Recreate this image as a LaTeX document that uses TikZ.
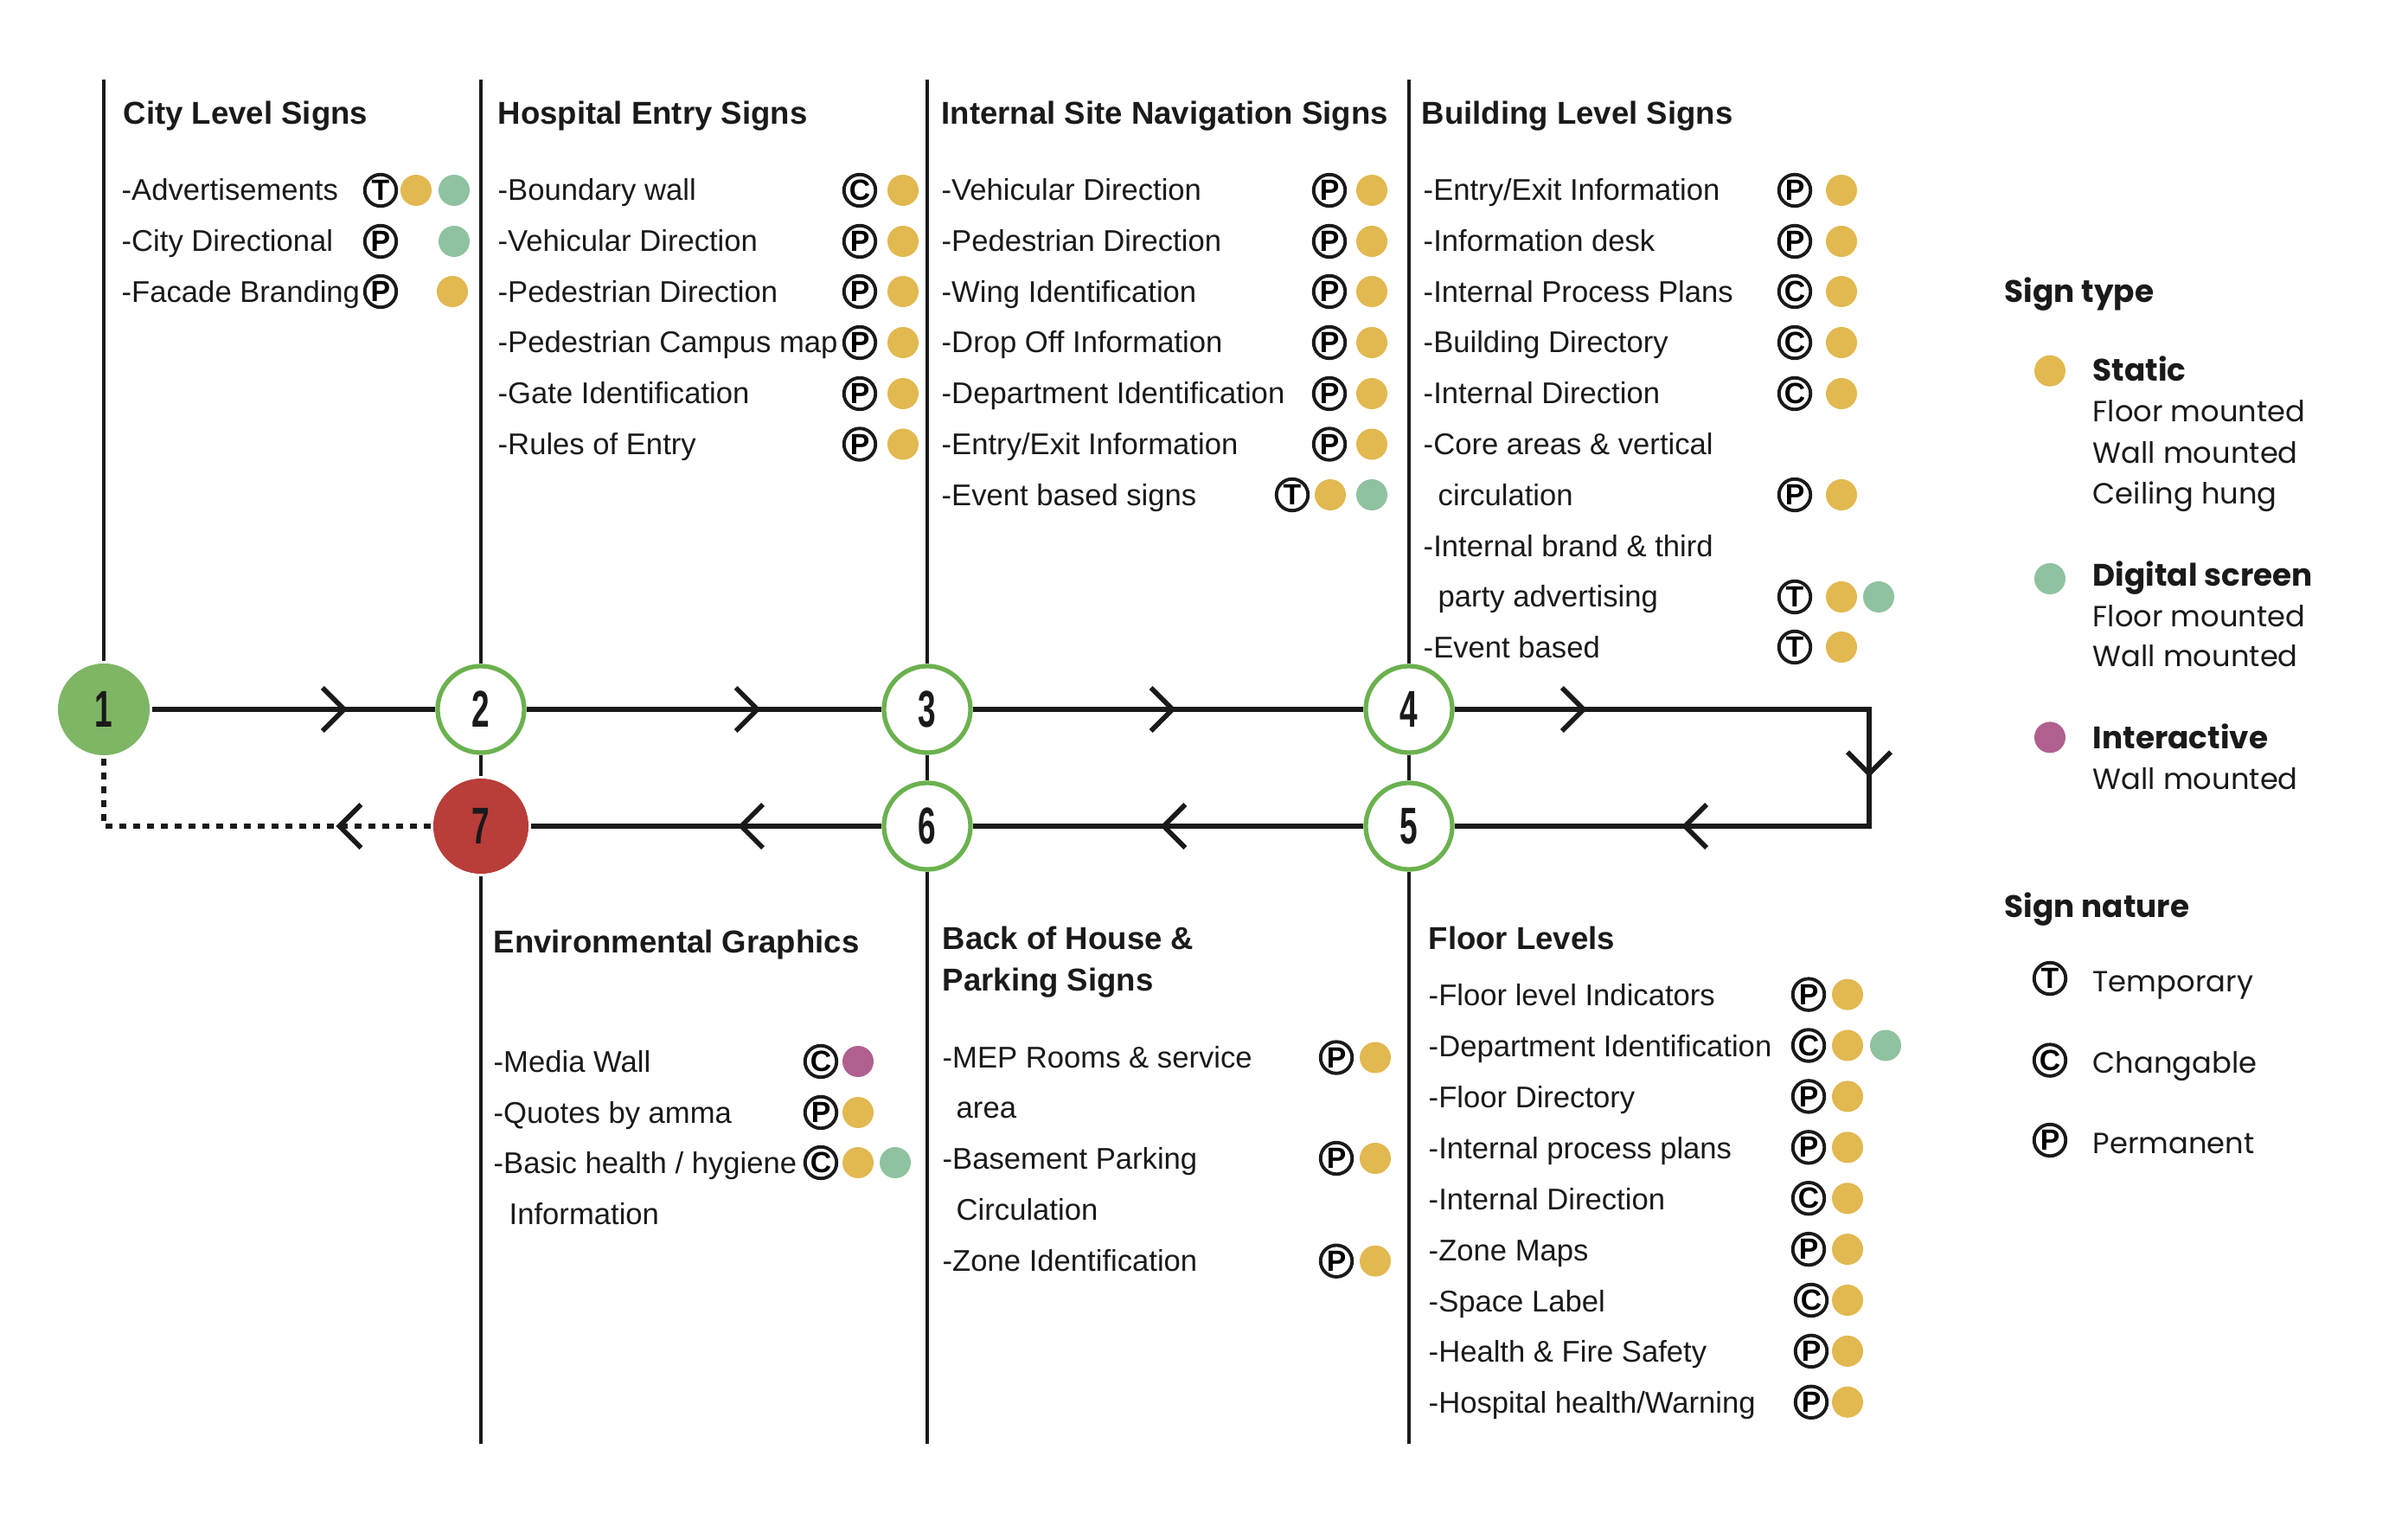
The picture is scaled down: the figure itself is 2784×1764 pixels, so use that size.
\documentclass[tikz,border=0pt]{standalone}
\usepackage{fontspec}
\setmainfont{Liberation Sans}
\newfontfamily\legendfont{Poppins}
\usepackage{tikz}
\usetikzlibrary{arrows.meta,decorations.markings}

\definecolor{inkblack}{HTML}{1A1A1A}
\definecolor{signyellow}{HTML}{E2B850}
\definecolor{signgreen}{HTML}{8FC2A0}
\definecolor{signpurple}{HTML}{B0608F}
\definecolor{ringgreen}{HTML}{6BB14F}
\definecolor{startgreen}{HTML}{7EB665}
\definecolor{endred}{HTML}{B93D39}

\newcommand{\stationnum}[1]{\scalebox{0.62}[1]{\fontsize{17}{17}\selectfont\bfseries #1}}

\begin{document}
\begin{tikzpicture}[x=0.01cm, y=-0.01cm,
    head/.style={anchor=base west, inner sep=0pt, text=inkblack, font=\fontsize{10.4}{12}\selectfont\bfseries},
    item/.style={anchor=base west, inner sep=0pt, text=inkblack, font=\fontsize{9.85}{12}\selectfont},
    legendhead/.style={anchor=base west, inner sep=0pt, text=inkblack, font=\legendfont\fontsize{10.2}{12}\selectfont\bfseries},
    legenditem/.style={anchor=base west, inner sep=0pt, text=inkblack, font=\legendfont\fontsize{9.6}{12}\selectfont},
    nature/.style={circle, draw=inkblack, line width=1.1pt, minimum size=0.365cm, inner sep=0pt, font=\fontsize{9.6}{9.6}\selectfont\bfseries},
    ydot/.style={circle, fill=signyellow, minimum size=0.36cm, inner sep=0pt},
    gdot/.style={ydot, fill=signgreen},
    pdot/.style={ydot, fill=signpurple},
    station/.style={circle, draw=ringgreen, line width=1.5pt, fill=white, minimum size=1.0cm, inner sep=0pt, text=inkblack},
    track/.style={draw=inkblack, line width=1.8pt},
    pole/.style={draw=inkblack, line width=1.2pt},
    chevat/.style={postaction={decorate, decoration={markings, mark=at position #1 with {\arrow{Straight Barb[length=2.5mm, width=5mm, line width=1.6pt]}}}}}]
    \useasboundingbox (0,0) rectangle (2784,1764);

    \node[station, draw=none, fill=startgreen, minimum size=1.06cm] (n1) at (120,820) {\stationnum{1}};
    \node[station] (n2) at (556,820) {\stationnum{2}};
    \node[station] (n3) at (1072,820) {\stationnum{3}};
    \node[station] (n4) at (1629,820) {\stationnum{4}};
    \node[station] (n5) at (1629,955) {\stationnum{5}};
    \node[station] (n6) at (1072,955) {\stationnum{6}};
    \node[station, draw=none, fill=endred, minimum size=1.1cm] (n7) at (556,955) {\stationnum{7}};

    \coordinate (p1t) at (120,92);
    \coordinate (p2t) at (556,92);
    \coordinate (p3t) at (1072,92);
    \coordinate (p4t) at (1629,92);
    \coordinate (p2b) at (556,1669);
    \coordinate (p3b) at (1072,1669);
    \coordinate (p4b) at (1629,1669);
    \coordinate (turnA) at (2161,820);
    \coordinate (turnB) at (2161,955);
    \coordinate (turnC) at (120,955);

    \draw[pole] (p1t) -- (n1);
    \draw[pole] (p2t) -- (n2);
    \draw[pole] (n2) -- (n7);
    \draw[pole] (n7) -- (p2b);
    \draw[pole] (p3t) -- (n3);
    \draw[pole] (n3) -- (n6);
    \draw[pole] (n6) -- (p3b);
    \draw[pole] (p4t) -- (n4);
    \draw[pole] (n4) -- (n5);
    \draw[pole] (n5) -- (p4b);

    \draw[track, chevat=0.69] (n1) -- (n2);
    \draw[track, chevat=0.66] (n2) -- (n3);
    \draw[track, chevat=0.52] (n3) -- (n4);
    \draw[track, chevat=0.14, chevat=0.51, chevat=0.76] (n4) -- (turnA) -- (turnB) -- (n5);
    \draw[track, chevat=0.52] (n5) -- (n6);
    \draw[track, chevat=0.41] (n6) -- (n7);
    \draw[track, dash pattern=on 0.8mm off 0.8mm, chevat=0.24] (n7) -- (turnC) -- (n1);

    \node[head] (hcity) at (142,144) {City Level Signs};
    \node[item] (city1) at (140,232) {-Advertisements};
    \node[nature] (city1n) at (440,220) {T};
    \node[ydot] (city1y) at (481,220) {};
    \node[gdot] (city1g) at (525,220) {};
    \node[item] (city2) at (140,290.7) {-City Directional};
    \node[nature] (city2n) at (440,279) {P};
    \node[gdot] (city2g) at (525,279) {};
    \node[item] (city3) at (140,349.4) {-Facade Branding};
    \node[nature] (city3n) at (440,337) {P};
    \node[ydot] (city3y) at (523,337) {};

    \node[head] (hentry) at (575,144) {Hospital Entry Signs};
    \node[item] (entry1) at (575,232) {-Boundary wall};
    \node[nature] (entry1n) at (994,220) {C};
    \node[ydot] (entry1y) at (1044,220) {};
    \node[item] (entry2) at (575,290.7) {-Vehicular Direction};
    \node[nature] (entry2n) at (994,279) {P};
    \node[ydot] (entry2y) at (1044,279) {};
    \node[item] (entry3) at (575,349.4) {-Pedestrian Direction};
    \node[nature] (entry3n) at (994,337) {P};
    \node[ydot] (entry3y) at (1044,337) {};
    \node[item] (entry4) at (575,408) {-Pedestrian Campus map};
    \node[nature] (entry4n) at (994,396) {P};
    \node[ydot] (entry4y) at (1044,396) {};
    \node[item] (entry5) at (575,466.8) {-Gate Identification};
    \node[nature] (entry5n) at (994,455) {P};
    \node[ydot] (entry5y) at (1044,455) {};
    \node[item] (entry6) at (575,525.5) {-Rules of Entry};
    \node[nature] (entry6n) at (994,513.5) {P};
    \node[ydot] (entry6y) at (1044,513.5) {};

    \node[head] (hsite) at (1088,144) {Internal Site Navigation Signs};
    \node[item] (site1) at (1088,232) {-Vehicular Direction};
    \node[nature] (site1n) at (1537,220) {P};
    \node[ydot] (site1y) at (1586,220) {};
    \node[item] (site2) at (1088,290.7) {-Pedestrian Direction};
    \node[nature] (site2n) at (1537,279) {P};
    \node[ydot] (site2y) at (1586,279) {};
    \node[item] (site3) at (1088,349.4) {-Wing Identification};
    \node[nature] (site3n) at (1537,337) {P};
    \node[ydot] (site3y) at (1586,337) {};
    \node[item] (site4) at (1088,408) {-Drop Off Information};
    \node[nature] (site4n) at (1537,396) {P};
    \node[ydot] (site4y) at (1586,396) {};
    \node[item] (site5) at (1088,466.8) {-Department Identification};
    \node[nature] (site5n) at (1537,455) {P};
    \node[ydot] (site5y) at (1586,455) {};
    \node[item] (site6) at (1088,525.5) {-Entry/Exit Information};
    \node[nature] (site6n) at (1537,513.5) {P};
    \node[ydot] (site6y) at (1586,513.5) {};
    \node[item] (site7) at (1088,584.2) {-Event based signs};
    \node[nature] (site7n) at (1494,572) {T};
    \node[ydot] (site7y) at (1538,572) {};
    \node[gdot] (site7g) at (1586,572) {};

    \node[head] (hbuild) at (1643,144) {Building Level Signs};
    \node[item] (build1) at (1645,232) {-Entry/Exit Information};
    \node[nature] (build1n) at (2075,220) {P};
    \node[ydot] (build1y) at (2129,220) {};
    \node[item] (build2) at (1645,290.7) {-Information desk};
    \node[nature] (build2n) at (2075,279) {P};
    \node[ydot] (build2y) at (2129,279) {};
    \node[item] (build3) at (1645,349.4) {-Internal Process Plans};
    \node[nature] (build3n) at (2075,337) {C};
    \node[ydot] (build3y) at (2129,337) {};
    \node[item] (build4) at (1645,408) {-Building Directory};
    \node[nature] (build4n) at (2075,396) {C};
    \node[ydot] (build4y) at (2129,396) {};
    \node[item] (build5) at (1645,466.8) {-Internal Direction};
    \node[nature] (build5n) at (2075,455) {C};
    \node[ydot] (build5y) at (2129,455) {};
    \node[item] (build6) at (1645,525.5) {-Core areas \& vertical};
    \node[item] (build6b) at (1662,584.2) {circulation};
    \node[nature] (build6n) at (2075,572) {P};
    \node[ydot] (build6y) at (2129,572) {};
    \node[item] (build7) at (1645,643) {-Internal brand \& third};
    \node[item] (build7b) at (1662,701.6) {party advertising};
    \node[nature] (build7n) at (2075,690) {T};
    \node[ydot] (build7y) at (2129,690) {};
    \node[gdot] (build7g) at (2172,690) {};
    \node[item] (build8) at (1645,760) {-Event based};
    \node[nature] (build8n) at (2075,748) {T};
    \node[ydot] (build8y) at (2129,748) {};

    \node[head] (henv) at (570,1101) {Environmental Graphics};
    \node[item] (env1) at (570,1239) {-Media Wall};
    \node[nature] (env1n) at (949,1227) {C};
    \node[pdot] (env1p) at (992,1227) {};
    \node[item] (env2) at (570,1298) {-Quotes by amma};
    \node[nature] (env2n) at (949,1286) {P};
    \node[ydot] (env2y) at (992,1286) {};
    \node[item] (env3) at (570,1356) {-Basic health / hygiene};
    \node[item] (env3b) at (588,1415) {Information};
    \node[nature] (env3n) at (949,1344) {C};
    \node[ydot] (env3y) at (992,1344) {};
    \node[gdot] (env3g) at (1035,1344) {};

    \node[head] (hback) at (1089,1097) {Back of House \&};
    \node[head] (hback2) at (1089,1145) {Parking Signs};
    \node[item] (back1) at (1089,1234.5) {-MEP Rooms \& service};
    \node[item] (back1b) at (1105,1292.5) {area};
    \node[nature] (back1n) at (1545,1222.5) {P};
    \node[ydot] (back1y) at (1590,1222.5) {};
    \node[item] (back2) at (1089,1351) {-Basement Parking};
    \node[item] (back2b) at (1105,1410) {Circulation};
    \node[nature] (back2n) at (1545,1339) {P};
    \node[ydot] (back2y) at (1590,1339) {};
    \node[item] (back3) at (1089,1469.7) {-Zone Identification};
    \node[nature] (back3n) at (1545,1457.7) {P};
    \node[ydot] (back3y) at (1590,1457.7) {};

    \node[head] (hfloor) at (1651,1097) {Floor Levels};
    \node[item] (floor1) at (1651,1162.6) {-Floor level Indicators};
    \node[nature] (floor1n) at (2091,1149.6) {P};
    \node[ydot] (floor1y) at (2136,1149.6) {};
    \node[item] (floor2) at (1651,1221.5) {-Department Identification};
    \node[nature] (floor2n) at (2091,1208.5) {C};
    \node[ydot] (floor2y) at (2136,1208.5) {};
    \node[gdot] (floor2g) at (2180,1208.5) {};
    \node[item] (floor3) at (1651,1280.4) {-Floor Directory};
    \node[nature] (floor3n) at (2091,1267.4) {P};
    \node[ydot] (floor3y) at (2136,1267.4) {};
    \node[item] (floor4) at (1651,1339.3) {-Internal process plans};
    \node[nature] (floor4n) at (2091,1326.3) {P};
    \node[ydot] (floor4y) at (2136,1326.3) {};
    \node[item] (floor5) at (1651,1398.2) {-Internal Direction};
    \node[nature] (floor5n) at (2091,1385.2) {C};
    \node[ydot] (floor5y) at (2136,1385.2) {};
    \node[item] (floor6) at (1651,1457.1) {-Zone Maps};
    \node[nature] (floor6n) at (2091,1444.1) {P};
    \node[ydot] (floor6y) at (2136,1444.1) {};
    \node[item] (floor7) at (1651,1516) {-Space Label};
    \node[nature] (floor7n) at (2094,1503) {C};
    \node[ydot] (floor7y) at (2136,1503) {};
    \node[item] (floor8) at (1651,1574.9) {-Health \& Fire Safety};
    \node[nature] (floor8n) at (2094,1561.9) {P};
    \node[ydot] (floor8y) at (2136,1561.9) {};
    \node[item] (floor9) at (1651,1633.8) {-Hospital health/Warning};
    \node[nature] (floor9n) at (2094,1620.8) {P};
    \node[ydot] (floor9y) at (2136,1620.8) {};

    \node[legendhead] (htype) at (2317,350) {Sign type};
    \node[ydot] (kstatic) at (2370,428.7) {};
    \node[legendhead] (tstatic) at (2419,441) {Static};
    \node[legenditem] (tstatic1) at (2419,488) {Floor mounted};
    \node[legenditem] (tstatic2) at (2419,536) {Wall mounted};
    \node[legenditem] (tstatic3) at (2419,583) {Ceiling hung};
    \node[gdot] (kdigital) at (2370,669) {};
    \node[legendhead] (tdigital) at (2419,678) {Digital screen};
    \node[legenditem] (tdigital1) at (2419,724) {Floor mounted};
    \node[legenditem] (tdigital2) at (2419,771) {Wall mounted};
    \node[pdot] (kinter) at (2370,852.4) {};
    \node[legendhead] (tinter) at (2419,865.8) {Interactive};
    \node[legenditem] (tinter1) at (2419,912.8) {Wall mounted};

    \node[legendhead] (hnature) at (2317,1060) {Sign nature};
    \node[nature] (ktemp) at (2370,1131) {T};
    \node[legenditem] (ttemp) at (2419,1146) {Temporary};
    \node[nature] (kchange) at (2370,1225.6) {C};
    \node[legenditem] (tchange) at (2419,1240) {Changable};
    \node[nature] (kperm) at (2370,1318) {P};
    \node[legenditem] (tperm) at (2419,1333.7) {Permanent};
\end{tikzpicture}
\end{document}
